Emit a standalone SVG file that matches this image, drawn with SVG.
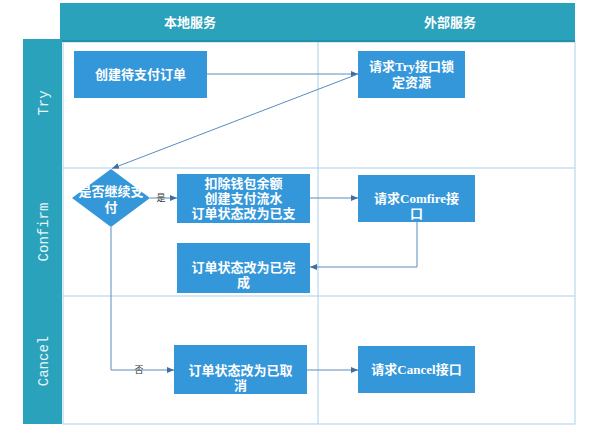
<svg xmlns="http://www.w3.org/2000/svg" width="610" height="434" viewBox="0 0 610 434">
<style>
.lane{fill:#2aa2bb}
.grid{stroke:#a9d0e8;stroke-width:1;fill:none}
.node{fill:#3497da}
.t{font-family:"Liberation Serif","Noto Sans CJK SC",serif;font-size:13px;font-weight:bold;fill:#ffffff;text-anchor:middle}
.hd{font-family:"Liberation Serif","Noto Sans CJK SC",serif;font-size:13px;font-weight:bold;fill:#ffffff;text-anchor:middle}
.ln{font-family:"Liberation Mono",monospace;font-size:14px;fill:#e8f6fa;text-anchor:middle}
.c{stroke:#5a8dbd;stroke-width:1;fill:none;marker-end:url(#ah)}
.lbl{font-family:"Liberation Sans","Noto Sans CJK SC",sans-serif;font-size:9px;fill:#333333;text-anchor:middle}
</style>
<defs>
<marker id="ah" markerWidth="8" markerHeight="8" refX="7" refY="4" orient="auto" markerUnits="userSpaceOnUse">
<path d="M0,1 L7,4 L0,7 Z" fill="#3f6f9f"/>
</marker>
</defs>
<rect width="610" height="434" fill="#ffffff"/>
<g id="pool">
<rect x="63" y="42" width="512" height="382" fill="#ffffff" class="grid"/>
<line class="grid" x1="63" y1="168" x2="575" y2="168"/>
<line class="grid" x1="63" y1="296" x2="575" y2="296"/>
<line class="grid" x1="318" y1="42" x2="318" y2="424"/>
</g>
<g id="header">
<rect x="60" y="3" width="515" height="38" class="lane"/>
<rect x="60" y="40" width="515" height="2" fill="#2590a8"/>
<text class="hd" x="190" y="27">本地服务</text>
<text class="hd" x="450" y="27">外部服务</text>
</g>
<g id="lanes">
<rect x="23" y="39" width="39" height="385" class="lane"/>
<line x1="62.5" y1="42" x2="62.5" y2="424" stroke="#d8eef5" stroke-width="1"/>
<text class="ln" transform="translate(48,103) rotate(-90)">Try</text>
<text class="ln" transform="translate(48,232) rotate(-90)">Confirm</text>
<text class="ln" transform="translate(48,361) rotate(-90)">Cancel</text>
</g>
<g id="connectors">
<line class="c" x1="207" y1="74" x2="358" y2="74"/>
<line class="c" x1="358" y1="74" x2="112" y2="168.5"/>
<line class="c" x1="150" y1="198" x2="177" y2="198"/>
<text class="lbl" x="161" y="201">是</text>
<line class="c" x1="310" y1="198" x2="358" y2="198"/>
<polyline class="c" points="417,222 417,267 310,267"/>
<polyline class="c" points="111,227 111,370 174,370"/>
<text class="lbl" x="139" y="373">否</text>
<line class="c" x1="307" y1="370" x2="358" y2="370"/>
</g>
<g id="n1">
<rect class="node" x="74" y="51" width="133" height="47"/>
<text class="t" x="140.5" y="79">创建待支付订单</text>
</g>
<g id="n2">
<rect class="node" x="358" y="51" width="107" height="47"/>
<text class="t" x="411.5" y="71">请求Try接口锁</text>
<text class="t" x="411.5" y="87">定资源</text>
</g>
<g id="n3">
<polygon class="node" points="111,169 150,198 111,227 72,198"/>
<text class="t" x="111" y="196">是否继续支</text>
<text class="t" x="111" y="212">付</text>
</g>
<g id="n4">
<rect class="node" x="177" y="174" width="133" height="49"/>
<text class="t" x="243.5" y="188">扣除钱包余额</text>
<text class="t" x="243.5" y="203">创建支付流水</text>
<text class="t" x="243.5" y="218">订单状态改为已支</text>
</g>
<g id="n5">
<rect class="node" x="358" y="175" width="117" height="47"/>
<text class="t" x="416.5" y="203">请求Comfire接</text>
<text class="t" x="416.5" y="218">口</text>
</g>
<g id="n6">
<rect class="node" x="177" y="243" width="133" height="50"/>
<text class="t" x="243.5" y="272">订单状态改为已完</text>
<text class="t" x="243.5" y="287">成</text>
</g>
<g id="n7">
<rect class="node" x="174" y="345" width="133" height="49"/>
<text class="t" x="240.5" y="375">订单状态改为已取</text>
<text class="t" x="240.5" y="390">消</text>
</g>
<g id="n8">
<rect class="node" x="358" y="346" width="117" height="47"/>
<text class="t" x="416.5" y="374">请求Cancel接口</text>
</g>
</svg>
